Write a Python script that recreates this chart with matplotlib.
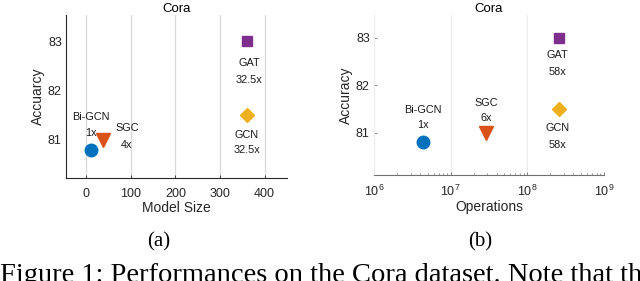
import matplotlib
matplotlib.use("Agg")
import matplotlib.pyplot as plt
import numpy as np

models = ["Bi-GCN", "SGC", "GAT", "GCN"]
accuracy = [80.8, 81.0, 83.0, 81.5]
model_size = [10, 38, 360, 360]
size_ratio = ["1x", "4x", "32.5x", "32.5x"]
operations = [4.4e6, 2.9e7, 2.6e8, 2.6e8]
ops_ratio = ["1x", "6x", "58x", "58x"]
colors = ["#0072BD", "#D95319", "#7E2F8E", "#EDB120"]
markers = ["o", "v", "s", "D"]
msizes = [9, 9.5, 7, 7.5]

plt.rcParams['font.family'] = ['Liberation Sans', 'DejaVu Sans']

fig = plt.figure(figsize=(6.4, 2.81), dpi=100)
W, H = 640, 281

def rect(l, t, r, b):
    return [l / W, (H - b) / H, (r - l) / W, (b - t) / H]

fs = 9
lfs = 7.8
# ---- left panel
ax1 = fig.add_axes(rect(66, 15, 287, 178))
for x, y, c, m, s in zip(model_size, accuracy, colors, markers, msizes):
    ax1.plot(x, y, marker=m, color=c, markersize=s, linestyle='none', zorder=3)
ax1.set_xlim(-45, 450)
ax1.set_ylim(80.23, 83.53)
ax1.set_xticks([0, 100, 200, 300, 400])
ax1.set_yticks([81, 82, 83])
ax1.grid(axis='x', color='#d8d8d8', linewidth=0.9)
ax1.set_axisbelow(True)
for sp in ['top', 'right']:
    ax1.spines[sp].set_visible(False)
for sp in ['left', 'bottom']:
    ax1.spines[sp].set_color('#262626')
    ax1.spines[sp].set_linewidth(0.8)
ax1.tick_params(axis='x', direction='in', length=2.5, width=0.6, colors='#262626', labelsize=fs, pad=7)
ax1.tick_params(axis='y', length=0, labelsize=fs, pad=3, colors='#262626')
ax1.set_xlabel("Model Size", fontsize=10, color='#262626', labelpad=1)
ax1.set_ylabel("Accuarcy", fontsize=10, color='#262626', labelpad=2)
ax1.set_title("Cora", fontsize=9.5, color='#000000', pad=2)

# (x, y of name line, y of ratio line)
lbl1 = [(11, 81.47, 81.14), (91, 81.24, 80.90), (365, 82.56, 82.22), (360, 81.10, 80.80)]
for (lx, ly1, ly2), name, r in zip(lbl1, models, size_ratio):
    ax1.text(lx, ly1, name, ha='center', va='center', fontsize=lfs, color='#1a1a1a')
    ax1.text(lx, ly2, r, ha='center', va='center', fontsize=lfs, color='#1a1a1a')

# ---- right panel
ax2 = fig.add_axes(rect(374, 15, 604, 175))
for x, y, c, m, s in zip(operations, accuracy, colors, markers, msizes):
    ax2.plot(x, y, marker=m, color=c, markersize=s, linestyle='none', zorder=3)
ax2.set_xscale('log')
ax2.set_xlim(1e6, 1e9)
ax2.set_ylim(80.11, 83.48)
ax2.set_yticks([81, 82, 83])
ax2.grid(axis='x', which='major', color='#ececec', linewidth=0.8)
ax2.set_axisbelow(True)
for sp in ['top', 'right']:
    ax2.spines[sp].set_visible(False)
ax2.spines['left'].set_color('#ececec')
ax2.spines['left'].set_linewidth(0.8)
ax2.spines['bottom'].set_color('#707070')
ax2.spines['bottom'].set_linewidth(0.8)
ax2.tick_params(axis='x', which='both', direction='in', colors='#707070', labelcolor='#262626', labelsize=fs, pad=6)
ax2.tick_params(axis='x', which='major', length=2.5, width=0.6)
ax2.tick_params(axis='x', which='minor', length=1.5, width=0.5)
ax2.tick_params(axis='y', direction='in', length=2.5, width=0.6, colors='#707070', labelcolor='#262626', labelsize=fs, pad=3)
ax2.set_xlabel("Operations", fontsize=10, color='#262626', labelpad=1)
ax2.set_ylabel("Accuracy", fontsize=10, color='#262626', labelpad=2)
ax2.set_title("Cora", fontsize=9.5, color='#000000', pad=2)

lbl2 = [(4.4e6, 81.48, 81.16), (2.9e7, 81.62, 81.31), (2.5e8, 82.63, 82.28), (2.5e8, 81.10, 80.74)]
for (lx, ly1, ly2), name, r in zip(lbl2, models, ops_ratio):
    ax2.text(lx, ly1, name, ha='center', va='center', fontsize=lfs, color='#1a1a1a')
    ax2.text(lx, ly2, r, ha='center', va='center', fontsize=lfs, color='#1a1a1a')

# ---- captions
serif = ['Liberation Serif', 'DejaVu Serif']
fig.text(159 / W, (H - 242) / H, "(a)", ha='center', va='center', fontsize=15, family=serif)
fig.text(480 / W, (H - 242) / H, "(b)", ha='center', va='center', fontsize=15, family=serif)
fig.text(0 / W, (H - 282) / H, "Figure 1: Performances on the Cora dataset. Note that the",
         ha='left', va='baseline', fontsize=20.5, family=serif)

fig.savefig("out.png", dpi=100)
